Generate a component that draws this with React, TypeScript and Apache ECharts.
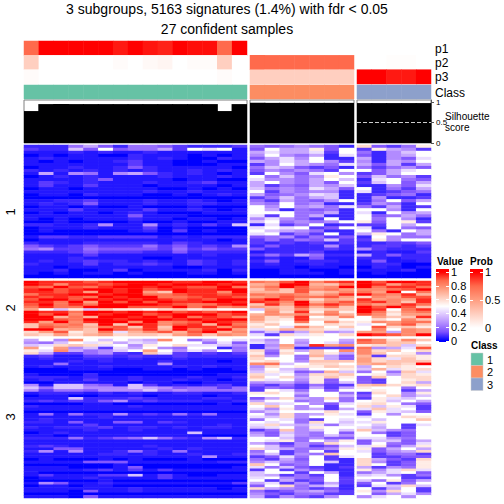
import React, { useEffect, useRef } from "react";
import * as echarts from "echarts";

// Heatmap levels: letters a..u, looked up in levelValues (k is white = 0.5, u = red = 1).
const LEVELS = "abcdefghijklmnopqrstu";
const levelValues = [0, 0.035, 0.06, 0.09, 0.14, 0.19, 0.25, 0.31, 0.37, 0.43, 0.5, 0.55, 0.6, 0.65, 0.7, 0.75, 0.8, 0.85, 0.9, 0.95, 1];

const slice1Rows = [
  "cccfhecffedcccd fefgfec medfl",
  "dcciekeffhdkjkb ekhhlek dlhgd",
  "bbbcbcbbcbbbbbb hjhhjdk fcgik",
  "ababbaacbbbabab gkgfhcj ecghk",
  "bcbbbbbcbcbaacb ehjgkcc hcgej",
  "bababbcdbbaabaa hgjhkgd gchgk",
  "bbbbbbbdbbaaabb dgkhgfj hehdh",
  "abbcbbcecbbbbba fihedec fdfge",
  "cbcbcbcbcbbcbcb egfgfdk kehjk",
  "bhbgfbghecbcbab dkgejkg dehkk",
  "abcbcbbbbcbbbcb kfifglk eifgd",
  "bbbbcebbbbabbaa jggfhki cjkfe",
  "bdcbcbbbcbbcdbb hkgfhek dikeh",
  "bdbbdbbbabbbbab hdfehgi ccgej",
  "abbabbbbbaababa ifgfjhe kcfdh",
  "bbbbbbbbcbbcbbb kdgfggc jcdef",
  "abbacbbbaababcb hefgjic cdefc",
  "aaaaaaaaaaaaaaa dfifhic cgccd",
  "bbccdbbbcbbcbab fdhfegk cfkeh",
  "bcbcebbbcbbccbb gfkfgcc dgfck",
  "abbabaabaaabaaa kgkghfj fdhcd",
  "bbbdbbbbdbbcbab khcfefc kkgck",
  "ababbabcbaaabbb kkkffhc jckgh",
  "bbbbbbbebbbaaaa jdkfhcc kefhf",
  "bababbbcbbabbab gjgfdkc kfkgc",
  "aabaaaabaabaabb ikfgfgk lekld",
  "ccbbcgbbgbcbdbi cjdfkcd ddkhk",
  "abbbcbbbdabaaaa jkjkdek jckfe",
  "abaaaaabcadabaa kihgfcc kfckh",
  "aaaaaaaaaaaaaaa jkdfdkc hlkfh",
  "bddccddddbcbccc efgdfde ckgff",
  "abbbbbbbbbbbbab dfdfeid dlgkk",
  "cbbbcccccbdcbbb dcdcdcd ccdde",
  "edcdedddfdecdcg cecccgc cddcd",
  "fgddfeeeedfdedd eccccdc gdccc",
  "cccdedddccecccc bcccdbb bcbbd",
  "bbbbdbbbbbbbcbb dfdhfcc hcecc",
  "bbbcbbbbaabbbbb bcbbebb ccbcc",
  "bcbcdccbcbbdcbc cebcccb bebbc",
  "cbbbdbccdcbdcbc bcbbcbb bccaa",
  "bbabbbbbbbaabbb bbbabba acbab",
  "bbcaabdabbbbcac aabbaab bbbca",
  "bababbabaaabbab aabbbab abaaa",
  "aaaaaaaaaaaaaaa aaaaaaa aaaaa",
];

const slice2Rows = [
  "utttstuuuuttuut rqsuqst usuut",
  "utqttstuutuuutu opuuonr utpst",
  "srusrtuututssur pruspqu urttr",
  "tustuutustuttuu nqnsqrp qqrsu",
  "ttstputupnuttqu oonsnoq rpukr",
  "rttuutuurrsttst rqrqoqt urqto",
  "tstsrutuurrstts pqsrrsp mqpss",
  "suusutututstsuu suspmpo tpqpt",
  "ttrupususuttuut tsquoqs stqnt",
  "surtruuuutsrrtu ntpurtr rpqtr",
  "rtrruuusssurtqr ponsorn ususn",
  "pkilinllkmnlmkk ipnqmnn utkrt",
  "uttruututuststu kqmtlql urmqr",
  "usuqutuustuuust oqpqoro sqlpp",
  "uuorouutusurtsq pmntkmq kpnnt",
  "uusruutuuututuu pmltmmk kmkqn",
  "tpuqtuuquqrsuts nlkrkqm lqprr",
  "nrqrnunutqstour lnklkml jkqsn",
  "nsrqorsntnuttqs mkjrnkn ksmnl",
  "uuopnusqtourtup jmonmlj kqkqp",
  "mpslnrjoqsosuoq fiehngh pphqp",
  "nmpmopmnnmprnqp jdmjlkm utsqu",
];

const slice3Rows = [
  "hkgqkikihqkfhkj igkhkkh sqmqn",
  "gfikjlhjikkkfje jhkgkjg rqnnk",
  "ijmnmjkglkmjjig cgphtpq lmnim",
  "pkpgidjhkgfkkcf chocddd rghjs",
  "ljqhfgikpkgjgkf mflhnkq qmnkm",
  "mhddfgdcnjdcdcd lemknlh qnklg",
  "cdbbddcdccdcccc ngkfohe odmml",
  "bcbbccbcbbcbbbb mkkflhe pmjnl",
  "bbbcbcbbbcbbbab lmkgnnn pmnnn",
  "bbfbbbbbbgbbbbb qrikmmk opnmu",
  "bcbbbcbbbbcbcbb gmkllnm hkmlk",
  "aaabbbaabbabaab hkihkkl iojlm",
  "aaaaaaaaaaaaaaa iljefoi fkfnj",
  "baaacaaaaaaaabb mjkgmmn klhml",
  "cccbcbbcbbbcbbc nkmhlnl enkmm",
  "bcbbdbbcbbcbbab ljkglek edklm",
  "aabbbbbabbaabbb ghhflei edkmh",
  "gbiifebidbcbcdb edfdfdd nomlm",
  "ifiigggihgeffdf dfedhdh lkkfk",
  "gdffegggifgffff dkjfkek klkdh",
  "bcccbcbcbbccbbc lmkhkkf dmkgl",
  "abbaabbbabbbabb kkkfkkh ekmgi",
  "bbbicccdcbbbccb ehmhgmf dljik",
  "cdcdcegcdcccbbc hkkfgkf klikh",
  "aaaabbaaaaaaaba mijkgej lmkfe",
  "cbbbbbbcbbbbbbb knkgkdk miljd",
  "bbbbbbbbbbbbbbb jglghdh jnjkd",
  "aaaaaaaaaaaaaaa gikkkmk eljie",
  "bfbfccgcdcfcfbb kgmghlj dkgkk",
  "bbbbbcbbbbbbbbb jimgkkk jkkml",
  "bcbbbbbbbbbbbbb fkjfdkj kikkn",
  "ccbebbeebdcbbbb kjkfmki jlkkk",
  "bbbbdbbbbbbbbcb jmihjfj kikdj",
  "cbcccdbccbcbccb ijkglkk jhkdk",
  "bbbbcbbcbbbbbbb dfngiki nigfk",
  "abcbbbbbbbbibbb geigfke kfdek",
  "bbabbbbbbbbbaaa hejgfig kkdek",
  "cccfcdefifdcgic kkifgee jjgfk",
  "bbbbbbbbbbbbbbb kjlfkhl eiieh",
  "bbbbbbbbbbbbbbb hfdgfmk ekfej",
  "cdcbbbbbcbbbbbb kiegdei jlehl",
  "bbeebbbbbcbcbbb mihffgl lehkh",
  "cgbgbbcfcbfbbbb fkdfkdk jeghm",
  "bbbbbccbcbbcbbc gidgfnk kdffd",
  "bbbbbbbbbbbbgbb dejfkdj kddee",
  "abaaababaaabaaa fdhekdc mhedm",
  "bbbbeeebbbbbbcc gigfkic mgdel",
  "aaaaaabaaaaaaaa nkefkcc mkdel",
  "bbbaaabeaaaaaab jfiedcd hdgfl",
  "bbbbcdbdbdbbbbb dkdgecc lgjmj",
  "baaaaaaaaaaaaaa ikkdkhc fhjke",
  "bdbbbddibdbaabb ihdfdkc ijgdf",
  "abbbcbbbbdbbbbb jkgfekd kkkdd",
  "aaaaabaaaaaaaaa kdhdekd ifleh",
  "bgebbcbbbbbbbbd hjdgdhd ekdfk",
  "abbabbaaaaaaaaa ekmfhjc djimi",
  "bbbbbbbcbbbbbab mhgfdec kdhkd",
  "bbbaebbcbbbbbbb fdeghfd lgmkd",
  "aaaaaaaaaaaaaaa gedffdd kehjg",
  "bbbaebbbbbbbbbb hdgedgk gjkgk",
];

const p1Values = [
  [0.75, 1, 1, 1, 1, 1, 0.94, 1, 0.95, 0.92, 1, 0.97, 0.97, 0.75, 1],
  [0, 0, 0, 0, 0, 0, 0, 0],
  [0, 0, 0, 0, 0],
];
const p2Values = [
  [0.25, 0, 0, 0, 0, 0, 0.02, 0, 0.03, 0.05, 0, 0.02, 0.02, 0.25, 0],
  [0.75, 0.75, 0.75, 0.75, 0.75, 0.75, 0.75],
  [0, 0, 0.01, 0.01, 0],
];
const p3Values = [
  [0.02, 0, 0, 0, 0, 0, 0, 0, 0, 0, 0, 0, 0, 0.02, 0],
  [0.25, 0.25, 0.25, 0.25, 0.25, 0.25, 0.25],
  [1, 1, 0.94, 0.94, 1],
];
const silhouetteValues = [
  [0.78, 0.95, 0.95, 0.95, 0.95, 0.95, 0.95, 0.95, 0.95, 0.95, 0.95, 0.95, 0.95, 0.78, 0.95],
  [0.98, 0.98, 0.98, 0.98, 0.98, 0.98, 0.98],
  [0.975, 0.975, 0.975, 0.975, 0.975],
];
const classValues = [1, 2, 3];
const valueStops = ["#0000ff", "#7e51ff", "#b28bff", "#dcc4ff", "#ffffff", "#ffcfc0", "#ff9e81", "#ff6a4c", "#ff0000"];
const probStops = ["#ffffff", "#ffcfc0", "#ff9e81", "#ff6a4c", "#ff0000"];
const classColors = ["#66C2A5", "#FC8D62", "#8DA0CB"];
const valueTicks = ["1", "0.8", "0.6", "0.4", "0.2", "0"];
const probTicks = ["1", "0.5", "0"];
const annotationLabels = ["p1", "p2", "p3", "Class"];
const sliceLabels = ["1", "2", "3"];

const FONT = "Liberation Sans";
const PANELS = [
  { x: 24, w: 223, n: 15 },
  { x: 250, w: 104, n: 7 },
  { x: 357, w: 74, n: 5 },
];
const SLICES = [
  { y: 145, h: 133, rows: slice1Rows },
  { y: 281, h: 55, rows: slice2Rows },
  { y: 339, h: 159, rows: slice3Rows },
];

function range(n: number) {
  return Array.from({ length: n }, (_, i) => String(i));
}

function buildOption() {
  const grid: any[] = [];
  const xAxis: any[] = [];
  const yAxis: any[] = [];
  const series: any[] = [];
  const valueSeries: number[] = [];
  const probSeries: number[] = [];
  const classSeries: number[] = [];

  const addGrid = (x: number, y: number, w: number, h: number, xn: number, yn: number) => {
    const i = grid.length;
    grid.push({ left: x, top: y, width: w, height: h, show: false });
    xAxis.push({ type: "category", gridIndex: i, data: range(xn), show: false });
    yAxis.push({ type: "category", gridIndex: i, data: range(yn), show: false, inverse: true });
    return i;
  };
  const addHeat = (i: number, data: number[][], bucket: number[]) => {
    bucket.push(series.length);
    series.push({
      type: "heatmap",
      xAxisIndex: i,
      yAxisIndex: i,
      data,
      silent: true,
      progressive: 0,
      emphasis: { disabled: true },
    });
  };

  PANELS.forEach((panel, pi) => {
    const probData: number[][] = [];
    [p1Values, p2Values, p3Values].forEach((vals, row) => {
      for (let c = 0; c < panel.n; c++) probData.push([c, row, vals[pi][c] ?? 0]);
    });
    addHeat(addGrid(panel.x, 41, panel.w, 43, panel.n, 3), probData, probSeries);

    const classData: number[][] = [];
    for (let c = 0; c < panel.n; c++) classData.push([c, 0, classValues[pi]]);
    addHeat(addGrid(panel.x, 85, panel.w, 14, panel.n, 1), classData, classSeries);

    SLICES.forEach((slice) => {
      const data: number[][] = [];
      slice.rows.forEach((row, r) => {
        const cells = row.split(" ")[pi];
        for (let c = 0; c < panel.n; c++) data.push([c, r, levelValues[LEVELS.indexOf(cells[c])]]);
      });
      addHeat(addGrid(panel.x, slice.y, panel.w, slice.h, panel.n, slice.rows.length), data, valueSeries);
    });

    const gi = grid.length;
    grid.push({ left: panel.x, top: 100, width: panel.w, height: 43, show: true, borderColor: "#808080", borderWidth: 1, backgroundColor: "#fff" });
    xAxis.push({ type: "category", gridIndex: gi, data: range(panel.n), show: false });
    const isLast = pi === 2;
    yAxis.push({
      type: "value",
      gridIndex: gi,
      min: 0,
      max: 1.05,
      position: "right",
      show: isLast,
      splitLine: { show: false },
      axisLine: { show: true, lineStyle: { color: "#555", width: 1 } },
      axisTick: { show: true, length: 3, lineStyle: { color: "#555" }, customValues: [0, 0.5, 1] },
      axisLabel: { show: true, margin: 5, fontFamily: FONT, fontSize: 8, color: "#000", customValues: [0, 0.5, 1] },
    });
    series.push({
      type: "bar",
      xAxisIndex: gi,
      yAxisIndex: gi,
      data: silhouetteValues[pi],
      barWidth: 16,
      silent: true,
      itemStyle: { color: "#000" },
      markLine: isLast
        ? {
            silent: true,
            symbol: "none",
            label: { show: false },
            lineStyle: { color: "#cccccc", type: "dashed", width: 1 },
            data: [{ yAxis: 0.5 }],
          }
        : undefined,
    });
  });

  const text = (x: number, y: number, t: string, size: number, extra: any = {}, styleExtra: any = {}) => ({
    type: "text",
    x,
    y,
    silent: true,
    ...extra,
    style: { text: t, fontFamily: FONT, fontSize: size, fill: "#000", textVerticalAlign: "middle", ...styleExtra },
  });

  const graphic: any[] = [
    text(227, 9, "3 subgroups, 5163 signatures (1.4%) with fdr < 0.05", 14, {}, { textAlign: "center" }),
    text(227, 29, "27 confident samples", 14, {}, { textAlign: "center" }),
  ];
  [49, 63, 77, 93].forEach((y, i) => graphic.push(text(435, y, annotationLabels[i], 12)));
  [212, 308, 417].forEach((y, i) =>
    graphic.push(text(10, y, sliceLabels[i], 13, { rotation: Math.PI / 2 }, { textAlign: "center" }))
  );
  graphic.push(text(445, 116, "Silhouette", 10));
  graphic.push(text(445, 127, "score", 10));

  // Legends
  graphic.push(text(437, 261, "Value", 10, {}, { fontWeight: "bold" }));
  graphic.push(text(470, 261, "Prob", 10, {}, { fontWeight: "bold" }));
  const stopsOf = (cols: string[], start: number, end: number) =>
    cols.map((c, i) => ({ offset: start + ((end - start) * i) / (cols.length - 1), color: c }));
  const valTop = 272, valBot = 340.5, probTop = 272, probBot = 328;
  graphic.push({
    type: "rect",
    silent: true,
    shape: { x: 436, y: 269, width: 13, height: 73 },
    style: {
      fill: new (echarts.graphic as any).LinearGradient(0, 0, 0, 1, [
        ...stopsOf([...valueStops].reverse(), (valTop - 269) / 73, (valBot - 269) / 73),
      ]),
    },
  });
  graphic.push({
    type: "rect",
    silent: true,
    shape: { x: 470, y: 269, width: 13, height: 59 },
    style: {
      fill: new (echarts.graphic as any).LinearGradient(0, 0, 0, 1, [
        ...stopsOf([...probStops].reverse(), (probTop - 269) / 59, 1),
      ]),
    },
  });
  const dash = (x1: number, x2: number, y: number) => ({
    type: "line",
    silent: true,
    shape: { x1, y1: y, x2, y2: y },
    style: { stroke: "#fff", lineWidth: 1 },
  });
  valueTicks.forEach((t, i) => {
    const y = Math.round(valTop + ((valBot - valTop) * i) / 5) + 0.5;
    graphic.push(dash(436, 439, y), dash(446, 449, y));
    graphic.push(text(451, y - 0.5, t, 11));
  });
  probTicks.forEach((t, i) => {
    const y = Math.round(probTop + ((probBot - probTop) * i) / 2) + 0.5;
    if (i < 2) graphic.push(dash(470, 473, y), dash(480, 483, y));
    graphic.push(text(485, y - 0.5, t, 11));
  });
  graphic.push(text(471, 345, "Class", 10, {}, { fontWeight: "bold" }));
  classValues.forEach((v, i) => {
    const y = 353 + i * 12.5;
    graphic.push({
      type: "rect",
      silent: true,
      shape: { x: 471, y, width: 12, height: 12.5 },
      style: { fill: classColors[i], stroke: "#cccccc", lineWidth: 0.5 },
    });
    graphic.push(text(487, y + 6.5, String(v), 11));
  });

  return {
    animation: false,
    backgroundColor: "#fff",
    tooltip: { show: false },
    grid,
    xAxis,
    yAxis,
    series,
    graphic,
    visualMap: [
      { type: "continuous", show: false, min: 0, max: 1, dimension: 2, seriesIndex: valueSeries, inRange: { color: valueStops } },
      { type: "continuous", show: false, min: 0, max: 1, dimension: 2, seriesIndex: probSeries, inRange: { color: probStops } },
      {
        type: "piecewise",
        show: false,
        dimension: 2,
        seriesIndex: classSeries,
        pieces: classValues.map((v, i) => ({ value: v, color: classColors[i] })),
      },
    ],
  };
}

export default function App() {
  const ref = useRef<HTMLDivElement>(null);
  useEffect(() => {
    if (!ref.current) return;
    document.body.style.margin = "0";
    const chart = echarts.init(ref.current, undefined, { renderer: "svg" });
    chart.setOption(buildOption() as any);
    return () => chart.dispose();
  }, []);
  return <div ref={ref} style={{ width: 504, height: 504 }} />;
}
